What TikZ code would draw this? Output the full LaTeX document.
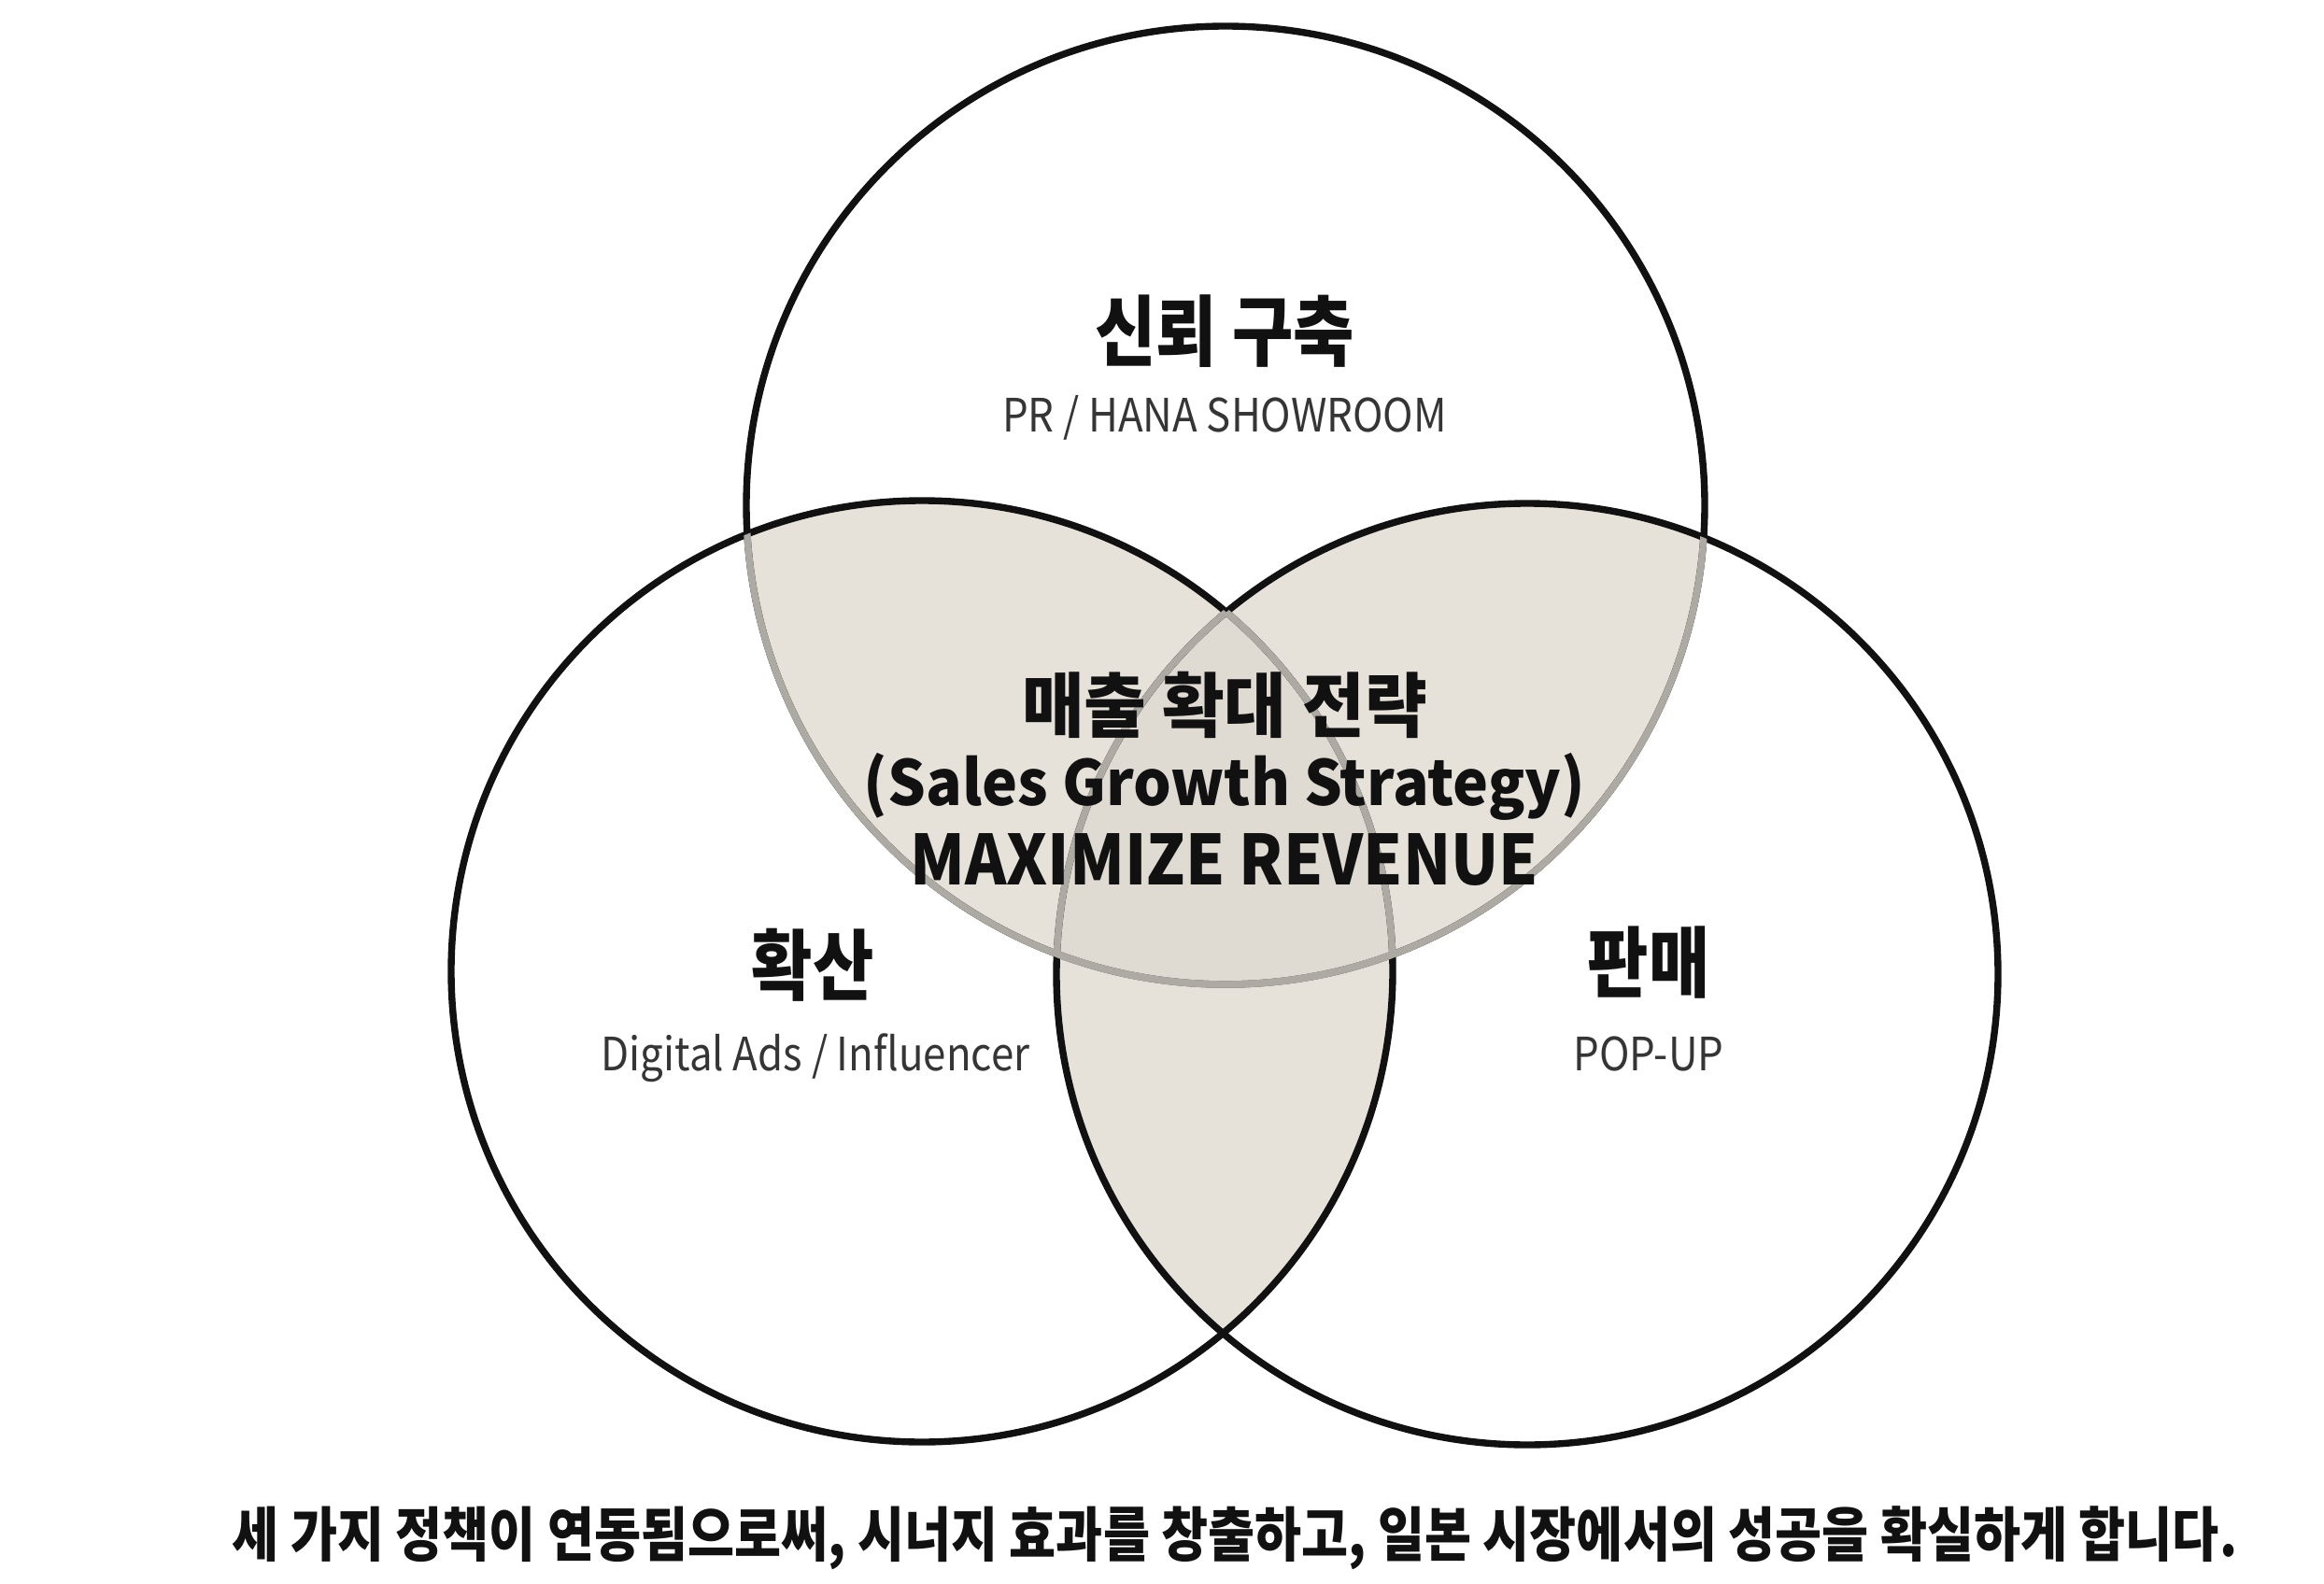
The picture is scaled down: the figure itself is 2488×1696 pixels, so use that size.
\documentclass[tikz,border=0pt]{standalone}
\usepackage{fontspec}
\newfontfamily\kr[FakeStretch=0.86]{Noto Sans CJK KR}
\newfontfamily\krwide[FakeStretch=0.96]{Noto Sans CJK KR}
\newfontfamily\latn[FakeStretch=0.89]{Noto Sans CJK KR}
\newfontfamily\latb[FakeStretch=0.96]{Noto Sans CJK KR}
\newfontfamily\lath[FakeStretch=0.91]{Noto Sans CJK KR}
\definecolor{shadefill}{HTML}{E6E2DA}
\definecolor{shadetri}{HTML}{DFDAD2}
\definecolor{ringgray}{HTML}{ADA9A3}
\definecolor{ink}{HTML}{111111}
\tikzset{
  ring/.style={draw=ink,line width=2.1pt},
  ringsoft/.style={draw=ringgray,line width=2.1pt},
  krtitle/.style={inner sep=0pt,text=ink,font=\kr\bfseries\fontsize{23.5pt}{27pt}\selectfont},
  krcenter/.style={inner sep=0pt,text=ink,font=\krwide\bfseries\fontsize{21.5pt}{26pt}\selectfont},
  latbold/.style={inner sep=0pt,text=ink,font=\latb\bfseries\fontsize{19pt}{23pt}\selectfont},
  latheavy/.style={inner sep=0pt,text=ink,font=\lath\bfseries\fontsize{21pt}{25pt}\selectfont},
  latsub/.style={inner sep=0pt,text=ink!85,font=\latn\fontsize{14pt}{17pt}\selectfont},
  krfoot/.style={inner sep=0pt,text=ink,font=\kr\bfseries\fontsize{18pt}{22pt}\selectfont},
}
\begin{document}
\begin{tikzpicture}[x=0.1mm,y=-0.1mm]
\useasboundingbox[fill=white] (0,0) rectangle (2488,1696);
\coordinate (cT) at (1312,541);
\coordinate (cL) at (987,1040);
\coordinate (cR) at (1635,1043);
\def\rT{51.3mm}
\def\rL{50.4mm}
\def\rR{50.4mm}
% shaded pairwise overlaps
\begin{scope}
  \clip (cT) circle[radius=\rT];
  \fill[shadefill] (cL) circle[radius=\rL];
  \fill[shadefill] (cR) circle[radius=\rR];
\end{scope}
\begin{scope}
  \clip (cL) circle[radius=\rL];
  \fill[shadefill] (cR) circle[radius=\rR];
\end{scope}
\begin{scope}
  \clip (cT) circle[radius=\rT];
  \clip (cL) circle[radius=\rL];
  \fill[shadetri] (cR) circle[radius=\rR];
\end{scope}
% black outlines
\draw[ring] (cT) circle[radius=\rT];
\draw[ring] (cL) circle[radius=\rL];
\draw[ring] (cR) circle[radius=\rR];
% softened arcs inside the shaded area
\begin{scope}
  \clip (cL) circle[radius=\rL];
  \draw[ringsoft] (cT) circle[radius=\rT];
\end{scope}
\begin{scope}
  \clip (cR) circle[radius=\rR];
  \draw[ringsoft] (cT) circle[radius=\rT];
\end{scope}
\begin{scope}
  \clip (cT) circle[radius=\rT];
  \clip (cR) circle[radius=\rR];
  \draw[ringsoft] (cL) circle[radius=\rL];
\end{scope}
\begin{scope}
  \clip (cT) circle[radius=\rT];
  \clip (cL) circle[radius=\rL];
  \draw[ringsoft] (cR) circle[radius=\rR];
\end{scope}
% texts
\node[krtitle] (trustT) at (1311,355) {신뢰 구축};
\node[latsub,anchor=base] (trustS) at (1311,462) {PR / HANA SHOWROOM};
\node[krcenter] (coreK) at (1311,755) {매출 확대 전략};
\node[latbold,anchor=base] (coreE) at (1311,862) {(Sales Growth Strategy)};
\node[latheavy,anchor=base] (coreM) at (1311,947) {MAXIMIZE REVENUE};
\node[krtitle] (spreadT) at (870,1033) {확산};
\node[latsub,anchor=base] (spreadS) at (873,1146) {Digital Ads / Influencer};
\node[krtitle] (saleT) at (1765,1031) {판매};
\node[latsub,anchor=base] (saleS) at (1765,1146) {POP-UP};
\node[krfoot] (foot) at (1322,1647) {세 가지 정책이 연동됨으로써, 시너지 효과를 창출하고, 일본 시장에서의 성공을 확실하게 합니다.};
\end{tikzpicture}
\end{document}
